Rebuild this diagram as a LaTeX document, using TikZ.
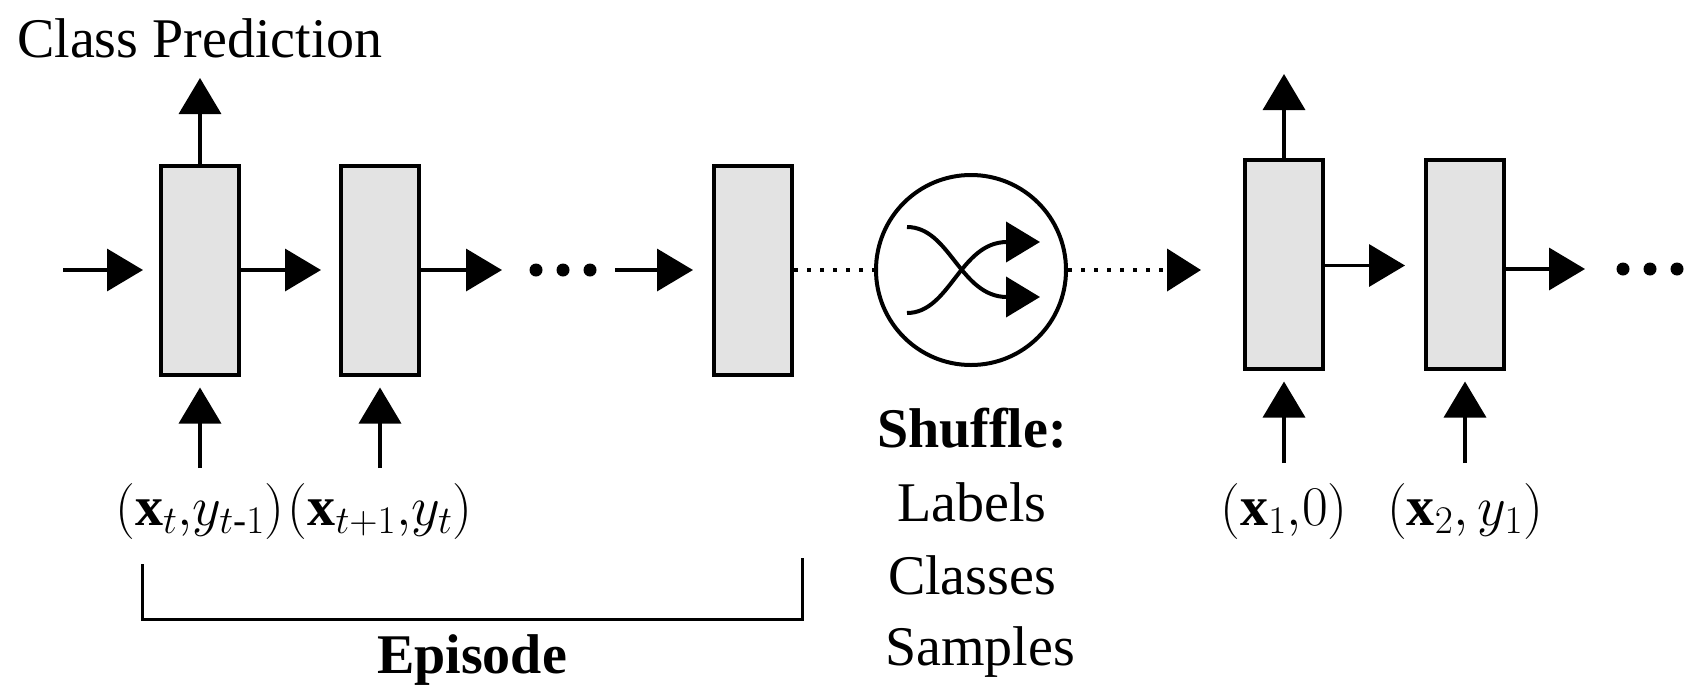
\RequirePackage{fix-cm}
\documentclass[tikz,border=0pt]{standalone}
\usepackage{amsmath}
\usepackage{fontspec}
\setmainfont{Liberation Serif}
\usetikzlibrary{arrows.meta}
\definecolor{boxgray}{RGB}{227,227,227}
\tikzset{
  cell/.style={draw, line width=4pt, fill=boxgray, minimum width=78pt, minimum height=209pt, inner sep=0pt},
  arr/.style={line width=3.5pt, -{Triangle[length=36pt,width=42pt]}},
  smallarr/.style={line width=4pt, -{Triangle[length=34pt,width=40pt]}},
  dotline/.style={line width=4pt, dash pattern=on 4pt off 9pt},
  txt/.style={font=\fontsize{56}{67}\selectfont, inner sep=0pt, anchor=base},
  btxt/.style={font=\fontsize{56}{67}\selectfont\bfseries, inner sep=0pt, anchor=base},
  mlabel/.style={font=\fontsize{56}{67}\selectfont, inner sep=0pt, anchor=base},
  dotfill/.style={fill=black},
}
\begin{document}
\begin{tikzpicture}[x=1pt,y=-1pt]
\useasboundingbox (0,0) rectangle (1708,694);
% boxes
\node[cell] (b1) at (200,270) {};
\node[cell] (b2) at (380,270) {};
\node[cell] (b3) at (753,270) {};
\node[cell] (b4) at (1284,264) {};
\node[cell] (b5) at (1465,264) {};
\node[circle, draw, line width=4pt, minimum size=190pt, inner sep=0pt] (sh) at (971,270) {};
% free ends
\coordinate (in0) at (63,270);
\coordinate (o2) at (502,270);
\coordinate (in3) at (615,270);
\coordinate (t4) at (1201,270);
\coordinate (s5) at (1505,269);
\coordinate (o5) at (1585,269);
\coordinate (out1) at (200,78);
\coordinate (out4) at (1284,74);
\coordinate (u1) at (200,468);
\coordinate (u2) at (380,468);
\coordinate (u4) at (1284,463);
\coordinate (u5) at (1465,463);
% horizontal arrows
\draw[arr] (in0) -- ([xshift=-16pt]b1.west);
\draw[arr] (b1.east) -- ([xshift=-18pt]b2.west);
\draw[arr] (b2.east) -- (o2);
\draw[arr] (in3) -- ([xshift=-19pt]b3.west);
\draw[dotline] (b3.east) -- (sh.west);
\draw[dotline, -{Triangle[length=34pt,width=42pt]}] (sh.east) -- (t4);
\draw[arr] ([yshift=-1.5pt]b4.east) -- ([xshift=-19pt,yshift=-1.5pt]b5.west);
\draw[arr] (s5) -- (o5);
% dots
\foreach \x in {536,563,590}{\fill[dotfill] (\x,270) circle (6.5pt);}
\foreach \x in {1623,1650,1677}{\fill[dotfill] (\x,269) circle (6.5pt);}
% vertical arrows
\draw[arr] (b1.north) -- (out1);
\draw[arr] (b4.north) -- (out4);
\draw[arr, shorten >=11pt] (u1) -- (b1.south);
\draw[arr, shorten >=11pt] (u2) -- (b2.south);
\draw[arr, shorten >=11pt] (u4) -- (b4.south);
\draw[arr, shorten >=11pt] (u5) -- (b5.south);
% shuffle symbol
\draw[smallarr] (907,227) .. controls (950,227) and (960,297) .. (1040,297);
\draw[smallarr] (907,313) .. controls (950,313) and (960,242) .. (1040,242);
% episode bracket
\draw[line width=3pt] (142,564) -- (142,619) -- (802,619) -- (802,558);
% texts
\node[txt, anchor=base west] (cp) at (17,57) {Class Prediction};
\node[mlabel] (l1) at (200,525) {$(\mathbf{x}_t{,}y_{t\text{-}1})$};
\node[mlabel] (l2) at (380,525) {$(\mathbf{x}_{t+1}{,}y_t)$};
\node[mlabel] (l4) at (1284,525) {$(\mathbf{x}_1{,}0)$};
\node[mlabel] (l5) at (1465,525) {$(\mathbf{x}_2,y_1)$};
\node[btxt] (shf) at (972,447) {Shuffle:};
\node[txt] (lab) at (972,521) {Labels};
\node[txt] (cls) at (972,594) {Classes};
\node[txt] (smp) at (980,665) {Samples};
\node[btxt] (ep) at (472,673) {Episode};
\end{tikzpicture}
\end{document}
